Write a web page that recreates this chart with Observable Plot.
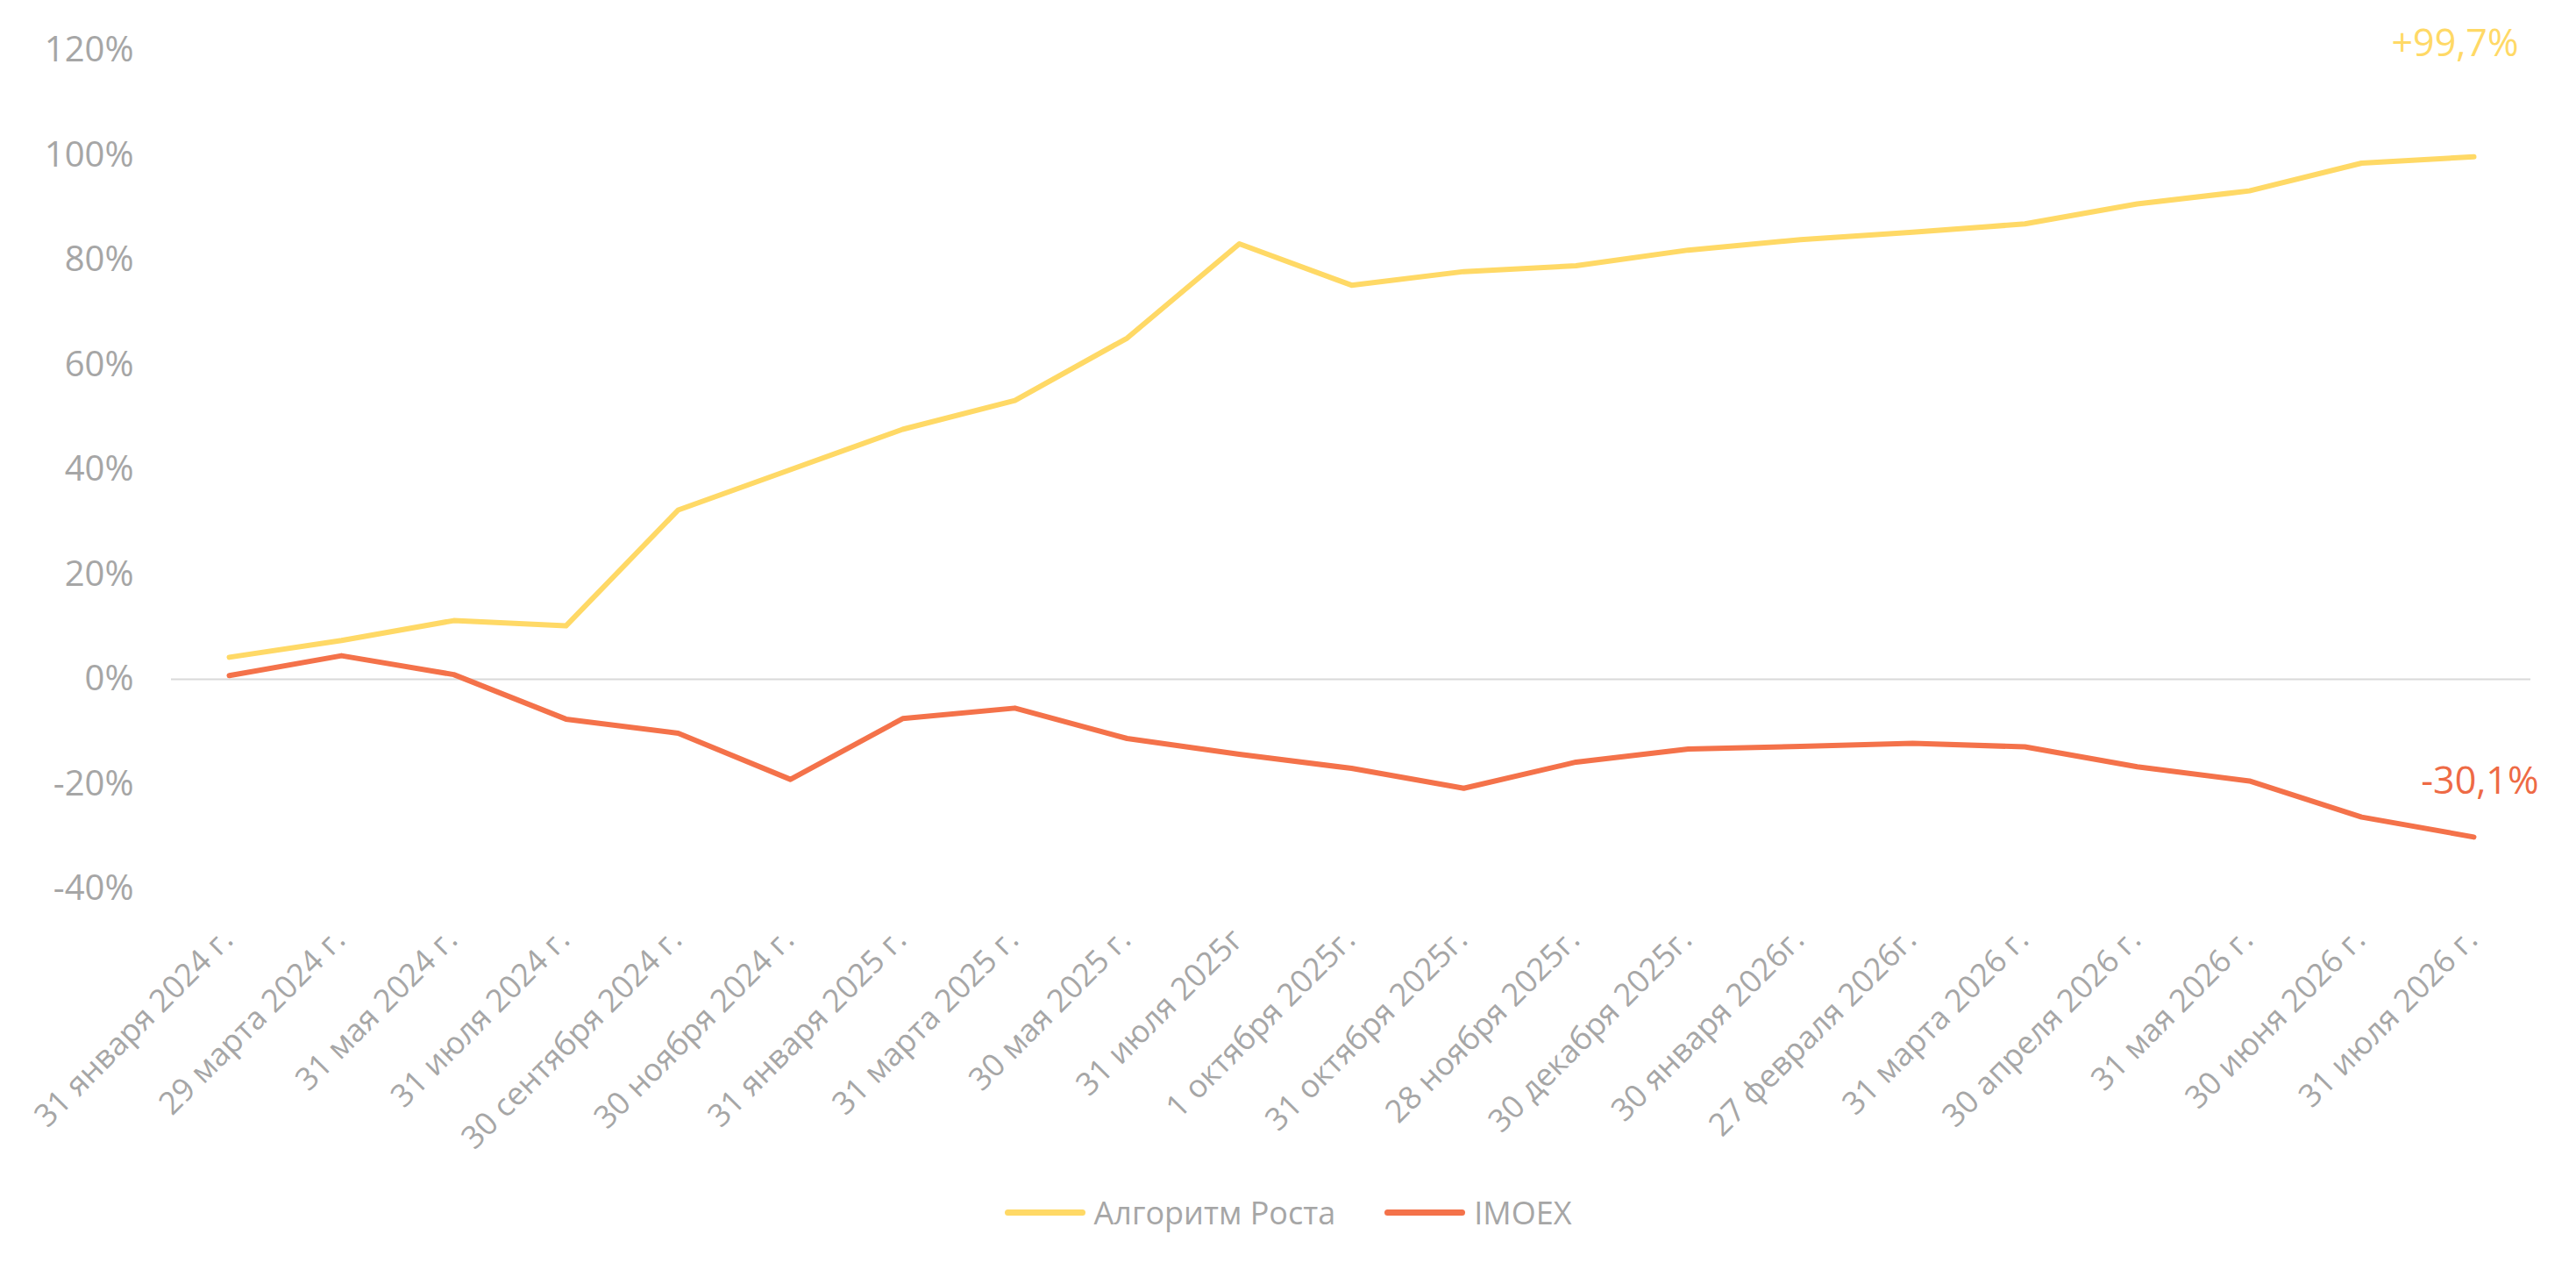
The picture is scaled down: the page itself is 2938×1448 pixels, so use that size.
<!DOCTYPE html>
<html>
<head>
<meta charset="utf-8">
<script src="https://cdn.jsdelivr.net/npm/d3@7"></script>
<script src="https://cdn.jsdelivr.net/npm/@observablehq/plot@0.6"></script>
<style>
  body { margin: 0; background: #fff; font-family: "Open Sans", "Noto Sans", sans-serif; }
  #legend { display: flex; justify-content: center; align-items: center; height: 124px; gap: 56px; color: #A6A6A6; font-size: 36px; }
  .item { display: flex; align-items: center; gap: 10px; }
  .sw { width: 92px; height: 7px; border-radius: 4px; }
</style>
</head>
<body>
<div id="chart"></div>
<div id="legend"></div>
<script>
const dates = [
  "31 января 2024 г.", "29 марта 2024 г.", "31 мая 2024 г.", "31 июля 2024 г.",
  "30 сентября 2024 г.", "30 ноября 2024 г.", "31 января 2025 г.", "31 марта 2025 г.",
  "30 мая 2025 г.", "31 июля 2025г", "1 октября 2025г.", "31 октября 2025г.",
  "28 ноября 2025г.", "30 декабря 2025г.", "30 января 2026г.", "27 февраля 2026г.",
  "31 марта 2026 г.", "30 апреля 2026 г.", "31 мая 2026 г.", "30 июня 2026 г.", "31 июля 2026 г."
];
const growth = [4.2, 7.4, 11.2, 10.2, 32.3, 40.0, 47.7, 53.2, 65.1, 83.1, 75.2, 77.8, 78.9, 81.9, 83.9, 85.3, 86.9, 90.7, 93.2, 98.5, 99.7];
const imoex = [0.7, 4.5, 0.9, -7.6, -10.3, -19.1, -7.5, -5.5, -11.3, -14.3, -17.0, -20.8, -15.8, -13.3, -12.8, -12.2, -12.9, -16.7, -19.4, -26.3, -30.1];
const seriesNames = ["Алгоритм Роста", "IMOEX"];
const seriesColors = ["#FFD966", "#F4724A"];
const labelColors = ["#FFD966", "#EE6A45"];
const yTicks = [-40, -20, 0, 20, 40, 60, 80, 100, 120];
const endLabels = ["+99,7%", "-30,1%"];

const rows = [];
dates.forEach((d, i) => {
  rows.push({date: d, value: growth[i], series: seriesNames[0]});
  rows.push({date: d, value: imoex[i], series: seriesNames[1]});
});
const n = dates.length - 1;
const endRows = [
  {date: dates[n], value: growth[n], label: endLabels[0]},
  {date: dates[n], value: imoex[n], label: endLabels[1]}
];

const chart = Plot.plot({
  width: 2938,
  height: 1320,
  marginTop: 57,
  marginBottom: 307,
  marginLeft: 195,
  marginRight: 52,
  style: {fontSize: "40px", fontFamily: "'Open Sans', 'Noto Sans', sans-serif", color: "#A6A6A6", background: "white"},
  x: {type: "point", domain: dates, padding: 0.5, label: null},
  y: {domain: [-40, 120], label: null},
  color: {domain: seriesNames, range: seriesColors},
  marks: [
    Plot.ruleY([0], {stroke: "#D9D9D9", strokeWidth: 2}),
    Plot.axisY(yTicks, {tickSize: 0, tickPadding: 43, tickFormat: d => d + "%", fontSize: 40, label: null}),
    Plot.axisX({tickRotate: -45, tickSize: 0, tickPadding: 52, dx: -2, fontSize: 36, label: null}),
    Plot.line(rows, {x: "date", y: "value", z: "series", stroke: "series", strokeWidth: 6, strokeLinecap: "round", strokeLinejoin: "round"}),
    Plot.text([endRows[0]], {x: "date", y: "value", text: "label", fill: labelColors[0], textAnchor: "end", lineAnchor: "bottom", dx: 51, dy: -115, fontSize: 43}),
    Plot.text([endRows[1]], {x: "date", y: "value", text: "label", fill: labelColors[1], textAnchor: "end", lineAnchor: "bottom", dx: 74, dy: -49, fontSize: 43})
  ]
});
document.getElementById("chart").appendChild(chart);

const legend = document.getElementById("legend");
seriesNames.forEach((name, i) => {
  const item = document.createElement("div");
  item.className = "item";
  const sw = document.createElement("div");
  sw.className = "sw";
  sw.style.background = seriesColors[i];
  const t = document.createElement("span");
  t.textContent = name;
  item.appendChild(sw);
  item.appendChild(t);
  legend.appendChild(item);
});
</script>
</body>
</html>
